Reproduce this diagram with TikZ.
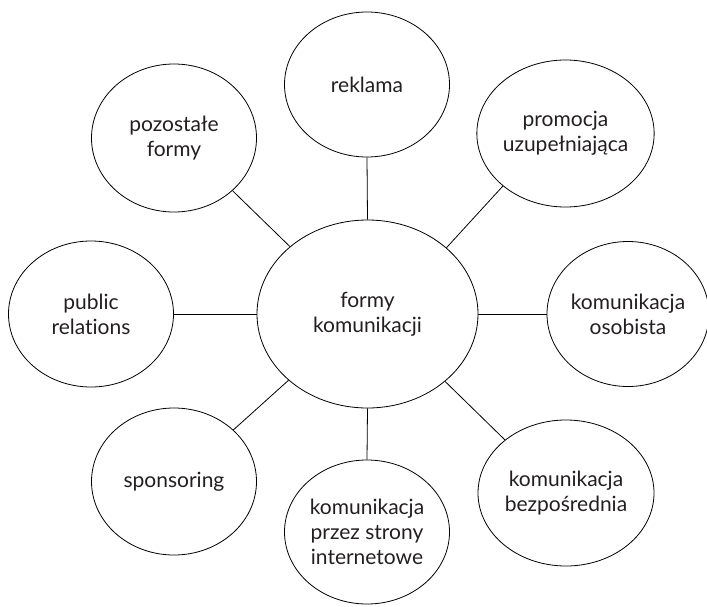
\documentclass[tikz,border=0pt]{standalone}
\usepackage{fontspec}
\setmainfont{Lato}[Ligatures={NoCommon}]
\usetikzlibrary{shapes.geometric}
\definecolor{inkgray}{HTML}{231F20}
\begin{document}
\begin{tikzpicture}[x=1pt,y=-1pt,
  bubble/.style={ellipse, draw=black, line width=0.8pt, inner sep=0pt,
    align=center, text=inkgray, font=\fontsize{21}{25}\selectfont},
  link/.style={draw=black, line width=0.8pt}]
  \useasboundingbox (0,0) rectangle (707,606);
  % central topic
  \node[bubble, minimum width=221pt, minimum height=188pt] (c) at (367.5,314) {formy\\komunikacji};
  % surrounding forms
  \node[bubble, minimum width=165pt, minimum height=145pt] (rek) at (367,84.5) {reklama};
  \node[bubble, minimum width=165pt, minimum height=148pt] (poz) at (174,138) {pozostałe\\formy};
  \node[bubble, minimum width=175pt, minimum height=147pt] (pro) at (565.5,133.5) {promocja\\uzupełniająca};
  \node[bubble, minimum width=165pt, minimum height=146pt] (pr) at (91,314) {public\\relations};
  \node[bubble, minimum width=162pt, minimum height=145pt] (oso) at (628,314) {komunikacja\\osobista};
  \node[bubble, minimum width=165pt, minimum height=147pt] (spo) at (174,481.5) {sponsoring};
  \node[bubble, minimum width=165pt, minimum height=144pt] (int) at (367,532) {komunikacja\\przez strony\\internetowe};
  \node[bubble, minimum width=176pt, minimum height=146pt] (bez) at (566,493) {komunikacja\\bezpośrednia};
  % connectors
  \draw[link] (c.north) -- (rek.south);
  \draw[link] (c.south) -- (int.north);
  \draw[link] (c.west) -- (pr.east);
  \draw[link] (c.east) -- (oso.west);
  \draw[link] (c.139.7) -- (poz.318.5);
  \draw[link] (c.40.5) -- (pro.220.9);
  \draw[link] (c.220.3) -- (spo.41.4);
  \draw[link] (c.319.9) -- (bez.139.5);
\end{tikzpicture}
\end{document}
